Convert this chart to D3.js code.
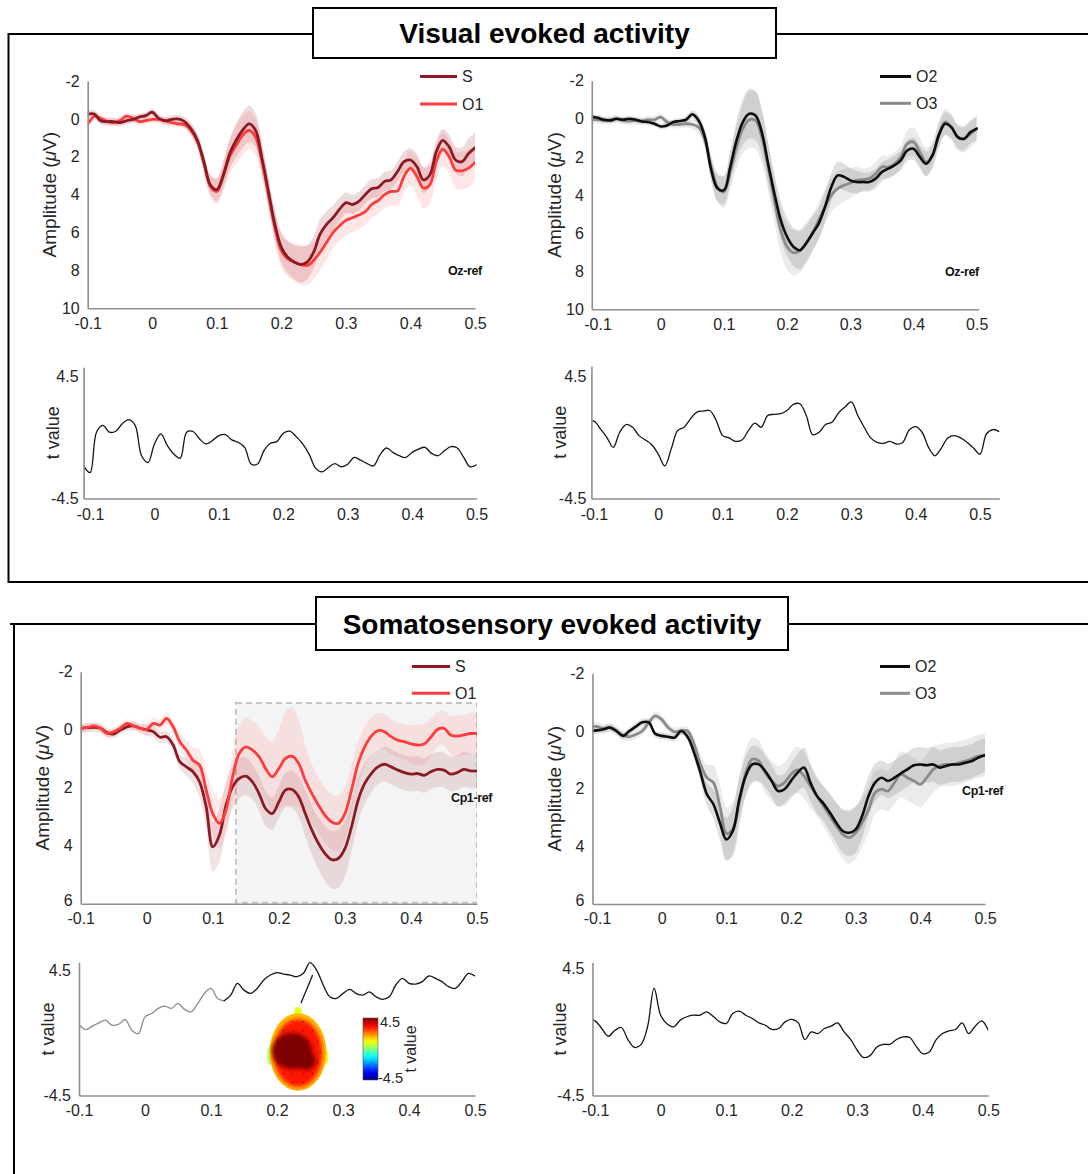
<!DOCTYPE html>
<html>
<head>
<meta charset="utf-8">
<script src="https://cdn.jsdelivr.net/npm/d3@7"></script>
<style>
  html, body { margin: 0; padding: 0; background: #fff; }
  svg text { font-family: "Liberation Sans", Arial, Helvetica, sans-serif; }
</style>
</head>
<body>
<script>
// ---------------- data ----------------
// ERP / t-value sampling grid: -0.11 s to 0.50 s, 10 ms steps
const erpTimes = d3.range(62).map(i => (i - 11) / 100);
const tTimes = d3.range(62).map(i => (i - 11) / 100);
const tTimesLong = d3.range(65).map(i => (i - 11) / 100);   // runs to 0.53 s

const timeTicks = [-0.1, 0, 0.1, 0.2, 0.3, 0.4, 0.5];
const visAmpTicks = [-2, 0, 2, 4, 6, 8, 10];
const somAmpTicks = [-2, 0, 2, 4, 6];
const tTicks = [-4.5, 4.5];

const visualTitle = "Visual evoked activity";
const somaTitle = "Somatosensory evoked activity";

// Visual, Oz-ref: S vs O1 (µV)
const visS = [-0.26, -0.26, -0.26, 0.10, 0.14, 0.14, 0.20, 0.10, 0.03, -0.10,
  -0.17, -0.35, -0.03, 0.10, 0.03, 0.00, 0.14, 0.52, 1.13, 2.26,
  3.48, 3.74, 2.96, 1.83, 1.13, 0.60, 0.26, 0.60, 2.08, 3.83,
  5.57, 6.78, 7.30, 7.56, 7.69, 7.56, 7.04, 6.09, 5.57, 5.22,
  4.78, 4.43, 4.52, 4.35, 4.00, 3.69, 3.62, 3.30, 3.22, 2.78,
  2.26, 2.17, 2.52, 3.22, 2.96, 1.74, 1.13, 1.48, 2.17, 2.26,
  1.83, 1.53];
const visO1 = [0.23, 0.23, -0.14, -0.03, 0.14, 0.20, 0.09, -0.14, -0.03, 0.14,
  0.09, 0.03, 0.03, 0.09, 0.20, 0.26, 0.31, 0.60, 1.20, 2.35,
  3.56, 3.83, 3.04, 2.00, 1.39, 0.87, 0.60, 0.96, 2.26, 4.00,
  5.74, 6.96, 7.39, 7.56, 7.69, 7.74, 7.48, 7.04, 6.52, 6.00,
  5.65, 5.36, 5.22, 5.08, 4.90, 4.52, 4.31, 4.00, 3.83, 3.80,
  3.04, 2.60, 3.04, 3.65, 3.48, 2.26, 1.60, 2.00, 2.70, 2.74,
  2.60, 2.30];
const visCiS = [0.2, 0.2, 0.2, 0.2, 0.2, 0.2, 0.2, 0.2, 0.2, 0.2,
  0.2, 0.2, 0.2, 0.2, 0.2, 0.2, 0.22, 0.3, 0.35, 0.4,
  0.5, 0.6, 0.7, 0.8, 0.9, 0.95, 0.95, 0.9, 0.8, 0.75,
  0.75, 0.8, 0.85, 0.9, 0.95, 0.9, 0.85, 0.8, 0.7, 0.65,
  0.6, 0.55, 0.5, 0.5, 0.5, 0.5, 0.5, 0.5, 0.5, 0.5,
  0.55, 0.6, 0.65, 0.7, 0.65, 0.6, 0.6, 0.65, 0.7, 0.75,
  0.8, 0.8];
const visCiO1 = [0.2, 0.2, 0.2, 0.2, 0.2, 0.2, 0.2, 0.2, 0.2, 0.2,
  0.2, 0.2, 0.2, 0.2, 0.2, 0.2, 0.22, 0.3, 0.4, 0.5,
  0.6, 0.7, 0.8, 0.9, 1.0, 1.05, 1.0, 0.95, 0.9, 0.85,
  0.85, 0.9, 0.95, 1.0, 1.05, 1.05, 1.0, 0.95, 0.9, 0.85,
  0.8, 0.8, 0.75, 0.75, 0.7, 0.7, 0.7, 0.7, 0.75, 0.8,
  0.85, 0.9, 1.0, 1.05, 1.0, 0.95, 0.9, 0.9, 0.95, 1.0,
  1.0, 1.0];

// Visual, Oz-ref: O2 vs O3 (µV)
const visO2 = [-0.12, -0.05, 0.05, 0.09, 0.00, 0.05, 0.00, 0.05, 0.14, 0.17,
  0.26, 0.40, 0.35, 0.17, 0.12, 0.05, -0.23, 0.09, 0.96, 2.70,
  3.66, 3.75, 2.53, 1.13, 0.17, -0.26, -0.17, 0.70, 2.36, 3.93,
  5.32, 6.20, 6.72, 6.90, 6.54, 6.02, 5.50, 4.62, 3.58, 2.97,
  3.05, 3.23, 3.32, 3.32, 3.32, 3.14, 2.79, 2.62, 2.44, 2.18,
  1.66, 1.57, 2.00, 2.36, 1.92, 0.87, 0.26, 0.44, 0.96, 1.05,
  0.70, 0.52];
const visO3 = [0.05, 0.05, 0.09, 0.05, 0.00, 0.09, 0.12, 0.09, 0.12, 0.05,
  0.05, -0.09, 0.17, 0.30, 0.30, 0.26, 0.30, 0.44, 1.13, 2.53,
  3.58, 3.84, 2.79, 1.48, 0.52, 0.05, 0.09, 0.96, 2.53, 4.27,
  5.85, 6.72, 7.03, 6.93, 6.54, 6.02, 5.32, 4.62, 4.01, 3.66,
  3.49, 3.37, 3.23, 3.19, 3.14, 2.88, 2.53, 2.53, 2.36, 2.00,
  1.31, 1.22, 1.74, 2.27, 1.92, 0.87, 0.17, 0.44, 0.96, 1.05,
  0.79, 0.52];
const visCiO2 = [0.15, 0.15, 0.15, 0.15, 0.15, 0.15, 0.15, 0.15, 0.15, 0.15,
  0.15, 0.15, 0.15, 0.15, 0.15, 0.15, 0.2, 0.3, 0.45, 0.6,
  0.7, 0.75, 0.85, 1.0, 1.2, 1.3, 1.3, 1.2, 1.1, 1.0,
  1.0, 1.0, 1.0, 1.0, 0.95, 0.9, 0.85, 0.8, 0.75, 0.7,
  0.7, 0.65, 0.6, 0.5, 0.5, 0.5, 0.5, 0.5, 0.5, 0.5,
  0.55, 0.6, 0.6, 0.65, 0.6, 0.6, 0.6, 0.6, 0.6, 0.6,
  0.6, 0.6];
const visCiO3 = [0.2, 0.2, 0.2, 0.2, 0.2, 0.2, 0.2, 0.2, 0.2, 0.2,
  0.2, 0.2, 0.2, 0.2, 0.2, 0.2, 0.25, 0.35, 0.5, 0.65,
  0.75, 0.85, 0.95, 1.1, 1.3, 1.5, 1.5, 1.4, 1.3, 1.2,
  1.2, 1.2, 1.2, 1.15, 1.1, 1.0, 0.95, 0.9, 0.9, 0.9,
  0.85, 0.8, 0.7, 0.6, 0.6, 0.6, 0.6, 0.6, 0.6, 0.6,
  0.7, 0.75, 0.75, 0.75, 0.7, 0.7, 0.7, 0.7, 0.7, 0.7,
  0.7, 0.7];

// Visual t values (paired contrasts)
const tVisS = [-2.09, -2.59, 0.40, 0.90, 0.40, 0.47, 1.02, 1.32, 0.90, -1.34,
  -1.84, -0.47, 0.27, -0.60, -1.22, -1.52, 0.40, 0.45, -0.10, -0.47,
  -0.22, 0.15, 0.22, -0.17, -0.35, -0.72, -1.95, -1.95, -0.97, -0.42,
  -0.30, 0.32, 0.47, 0.07, -0.47, -1.22, -2.26, -2.54, -2.21, -1.92,
  -2.16, -1.97, -1.47, -1.67, -1.92, -2.09, -1.27, -0.77, -1.09, -1.34,
  -1.47, -1.09, -0.85, -0.72, -1.17, -1.34, -0.97, -0.67, -0.77, -1.47,
  -2.16, -2.01];
const tVisO = [1.14, 1.22, 0.65, 0.02, -0.72, 0.40, 0.97, 0.77, 0.15, -0.17,
  -0.52, -1.22, -2.09, -0.85, 0.52, 0.77, 1.39, 1.89, 1.97, 2.01,
  1.27, 0.15, -0.02, -0.27, -0.17, 0.52, 1.07, 0.77, 1.64, 1.72,
  1.77, 2.01, 2.46, 2.51, 1.64, 0.22, 0.40, 0.97, 1.14, 1.82,
  2.26, 2.64, 1.64, 0.77, -0.02, -0.35, -0.42, -0.27, -0.47, -0.35,
  0.57, 0.82, 0.40, -0.72, -1.34, -0.77, -0.02, 0.15, -0.02, -0.35,
  -0.77, -1.22, 0.27, 0.60, 0.45];

// Somatosensory, Cp1-ref: S vs O1 (µV)
const somS = [-0.05, -0.05, -0.07, -0.08, -0.05, 0.10, 0.15, 0.01, -0.10, -0.13,
  -0.05, 0.01, 0.07, 0.26, 0.24, 0.53, 1.10, 1.28, 1.45, 1.80,
  2.66, 4.04, 3.64, 2.60, 1.97, 1.68, 1.60, 1.80, 2.20, 2.72,
  2.89, 2.49, 2.08, 2.06, 2.31, 2.89, 3.46, 3.92, 4.27, 4.48,
  4.44, 4.10, 3.35, 2.43, 1.85, 1.51, 1.28, 1.19, 1.28, 1.39,
  1.48, 1.53, 1.51, 1.57, 1.45, 1.37, 1.39, 1.53, 1.48, 1.37,
  1.42, 1.42];
const somO1 = [-0.05, -0.05, -0.08, -0.13, -0.05, 0.13, 0.07, -0.05, -0.22, -0.13,
  -0.05, -0.01, -0.22, -0.16, -0.39, -0.10, 0.41, 0.70, 1.05, 1.22,
  2.08, 2.89, 3.23, 2.77, 1.62, 0.82, 0.59, 0.70, 0.93, 1.34,
  1.62, 1.34, 0.99, 0.91, 1.16, 1.74, 2.20, 2.60, 2.95, 3.18,
  3.23, 2.89, 2.08, 1.16, 0.59, 0.22, 0.03, 0.07, 0.24, 0.36,
  0.41, 0.49, 0.53, 0.49, 0.26, -0.01, -0.05, 0.18, 0.22, 0.18,
  0.13, 0.13];
const somCiS = [0.15, 0.15, 0.15, 0.15, 0.15, 0.15, 0.15, 0.15, 0.15, 0.15,
  0.15, 0.2, 0.2, 0.2, 0.2, 0.2, 0.25, 0.3, 0.4, 0.55,
  0.7, 0.85, 0.9, 0.85, 0.75, 0.7, 0.65, 0.6, 0.6, 0.6,
  0.55, 0.55, 0.6, 0.65, 0.7, 0.8, 0.85, 0.9, 0.95, 1.0,
  1.0, 0.95, 0.85, 0.75, 0.7, 0.65, 0.6, 0.6, 0.6, 0.6,
  0.6, 0.6, 0.6, 0.6, 0.6, 0.6, 0.6, 0.6, 0.6, 0.6,
  0.6, 0.6];
const somCiO1 = [0.15, 0.15, 0.15, 0.15, 0.15, 0.15, 0.15, 0.15, 0.15, 0.15,
  0.15, 0.2, 0.2, 0.2, 0.2, 0.2, 0.3, 0.35, 0.45, 0.55,
  0.7, 0.8, 0.85, 0.85, 0.9, 1.0, 1.0, 1.0, 1.05, 1.1,
  1.2, 1.4, 1.6, 1.7, 1.5, 1.2, 1.0, 0.95, 0.95, 0.95,
  0.95, 0.9, 0.85, 0.75, 0.7, 0.65, 0.6, 0.6, 0.6, 0.6,
  0.6, 0.65, 0.7, 0.7, 0.65, 0.6, 0.6, 0.65, 0.7, 0.7,
  0.7, 0.7];

// Somatosensory, Cp1-ref: O2 vs O3 (µV)
const somO2 = [0.00, -0.02, -0.06, -0.12, 0.00, 0.17, 0.00, -0.15, -0.30, -0.30,
  0.10, 0.17, 0.20, 0.23, 0.00, 0.20, 0.75, 1.45, 2.20, 2.54,
  3.18, 3.76, 3.47, 2.37, 1.56, 1.16, 1.16, 1.39, 1.73, 2.08,
  2.02, 1.73, 1.45, 1.27, 1.79, 2.25, 2.51, 2.83, 3.18, 3.47,
  3.53, 3.41, 2.95, 2.25, 1.79, 1.62, 1.73, 1.62, 1.47, 1.33,
  1.19, 1.16, 1.19, 1.16, 1.27, 1.21, 1.16, 1.16, 1.10, 1.04,
  0.92, 0.84];
const somO3 = [-0.17, -0.15, -0.08, -0.12, 0.00, 0.15, 0.20, 0.12, 0.00, -0.29,
  -0.52, -0.40, -0.12, 0.03, 0.00, 0.00, 0.46, 1.16, 1.62, 1.79,
  2.60, 3.55, 3.40, 2.49, 1.45, 0.98, 1.04, 1.45, 1.73, 1.91,
  1.79, 1.50, 1.35, 1.56, 1.91, 2.25, 2.60, 2.95, 3.29, 3.58,
  3.70, 3.53, 3.18, 2.72, 2.14, 2.02, 2.08, 1.79, 1.50, 1.62,
  1.73, 1.85, 1.62, 1.33, 1.21, 1.16, 1.16, 1.10, 1.04, 0.96,
  0.87, 0.84];
const somCiO2 = [0.12, 0.12, 0.12, 0.12, 0.12, 0.12, 0.12, 0.12, 0.12, 0.12,
  0.12, 0.12, 0.12, 0.12, 0.12, 0.12, 0.2, 0.3, 0.4, 0.5,
  0.6, 0.75, 0.8, 0.75, 0.7, 0.65, 0.6, 0.55, 0.55, 0.55,
  0.55, 0.6, 0.65, 0.7, 0.65, 0.6, 0.6, 0.65, 0.7, 0.75,
  0.8, 0.8, 0.75, 0.7, 0.65, 0.6, 0.6, 0.6, 0.6, 0.6,
  0.6, 0.6, 0.6, 0.6, 0.6, 0.6, 0.6, 0.6, 0.6, 0.6,
  0.6, 0.6];
const somCiO3 = [0.15, 0.15, 0.15, 0.15, 0.15, 0.15, 0.15, 0.15, 0.15, 0.15,
  0.15, 0.15, 0.15, 0.15, 0.15, 0.15, 0.25, 0.35, 0.45, 0.6,
  0.75, 0.9, 0.95, 0.9, 0.8, 0.75, 0.7, 0.7, 0.7, 0.7,
  0.7, 0.75, 0.8, 0.8, 0.75, 0.7, 0.7, 0.75, 0.8, 0.85,
  0.9, 0.9, 0.85, 0.8, 0.75, 0.7, 0.7, 0.75, 0.8, 0.8,
  0.8, 0.8, 0.8, 0.8, 0.75, 0.75, 0.75, 0.75, 0.75, 0.75,
  0.75, 0.75];

// Somatosensory t values
const tSomS = [0.57, 0.57, 0.25, 0.50, 0.74, 0.93, 0.57, 0.64, 0.98, 0.21,
  -0.04, 1.17, 1.41, 1.78, 1.95, 1.78, 2.14, 1.71, 1.53, 2.14,
  2.86, 3.22, 2.50, 2.33, 2.74, 3.59, 3.10, 2.86, 3.22, 3.83,
  4.19, 4.36, 4.26, 4.19, 4.07, 4.31, 5.08, 4.55, 3.47, 2.62,
  2.50, 2.86, 3.15, 2.86, 2.74, 2.98, 2.62, 2.43, 2.62, 3.47,
  3.95, 3.59, 3.54, 3.71, 4.12, 3.95, 3.71, 3.35, 3.22, 3.71,
  4.31, 4.12];
const tSomO = [0.88, 0.78, 0.24, -0.31, 0.10, 0.31, -0.54, -1.10, -0.90, 0.36,
  3.10, 1.18, 0.55, 0.36, 0.83, 1.07, 1.18, 1.18, 1.42, 1.11,
  0.71, 0.59, 1.30, 1.47, 1.18, 0.95, 0.64, 0.47, 0.17, 0.24,
  0.71, 0.88, 0.64, -0.54, 0.00, -0.12, 0.24, 0.40, 0.64, 0.00,
  -0.54, -1.30, -1.82, -1.66, -1.07, -0.88, -0.88, -0.54, -0.36, -0.40,
  -1.02, -1.54, -1.42, -0.59, -0.12, 0.07, 0.17, 0.64, -0.12, 0.40,
  0.78, 0.12];

// significant S-vs-O1 window (somatosensory) and the time where the t trace turns black
const somaClusterTime = [0.135, 0.5];
const somaClusterAmp = [-0.92, 6];
const somaSigOnset = 0.12;
const topoTime = 0.254;        // t-trace sample the scalp map belongs to
const topoValue = 4.2;
const colorbarRange = [-4.5, 4.5];

// scalp map: sensor layout (unit head coords) and the map's t levels
const topoSensors = [[-0.2, -0.85], [0.2, -0.85],
  [-0.55, -0.6], [-0.2, -0.6], [0.2, -0.6], [0.55, -0.6],
  [-0.75, -0.3], [-0.38, -0.3], [0, -0.3], [0.38, -0.3], [0.75, -0.3],
  [-0.85, 0], [-0.45, 0], [0, 0], [0.45, 0], [0.85, 0],
  [-0.75, 0.3], [-0.38, 0.3], [0, 0.3], [0.38, 0.3], [0.75, 0.3],
  [-0.55, 0.6], [-0.2, 0.6], [0.2, 0.6], [0.55, 0.6],
  [-0.2, 0.85], [0.2, 0.85]];
const topoLevels = { rim: 1.7, body: 3.2, peak: 4.5, nose: 0.9, ear: 0.4 };

// ---------------- drawing ----------------
const W = 1088, H = 1174;
const AXIS_GREY = "#8e8e8e";
const TEXT_COL = "#262626";
const C_S = "#8c1a24", C_O1 = "#ff3b3b", C_O2 = "#0d0d0d", C_O3 = "#8a8a8a";
const TICK_FS = 16, LABEL_FS = 19;

const svg = d3.select("body").append("svg")
  .attr("width", W).attr("height", H)
  .attr("viewBox", `0 0 ${W} ${H}`);
const defs = svg.append("defs");

const fmt = d => String(d);
const smooth = d3.curveCatmullRom.alpha(0.5);

let clipN = 0;
function makePanel(o) {
  const x = d3.scaleLinear().domain(o.xDomain).range([o.left, o.right]);
  const y = d3.scaleLinear().domain(o.yDomain).range(o.yRange);
  const id = "plotclip" + (clipN++);
  defs.append("clipPath").attr("id", id).append("rect")
    .attr("x", o.left).attr("y", o.top - 30)
    .attr("width", o.right - o.left).attr("height", o.bottom - o.top + 60);
  const layer = svg.append("g").attr("clip-path", `url(#${id})`);
  return { x, y, layer, o };
}

function drawAxes(p) {
  const { x, y, o } = p;
  const gx = svg.append("g").attr("transform", `translate(0,${o.bottom})`)
    .call(d3.axisBottom(x).tickValues(timeTicks).tickFormat(fmt)
      .tickSize(0).tickSizeOuter(0).tickPadding(o.xPad));
  const gy = svg.append("g").attr("transform", `translate(${o.left},0)`)
    .call(d3.axisLeft(y).tickValues(o.yTicks).tickFormat(fmt)
      .tickSize(0).tickSizeOuter(0).tickPadding(o.yPad || 8));
  [gx, gy].forEach(g => {
    g.select(".domain").attr("stroke", AXIS_GREY).attr("stroke-width", 1.6);
    g.selectAll(".tick text").attr("font-size", TICK_FS).attr("fill", TEXT_COL)
      .attr("font-family", '"Liberation Sans", Arial, sans-serif');
  });
  // the lowest amplitude label sits in the corner just above the time labels
  if (o.cornerLift) {
    gy.selectAll(".tick").filter(d => d === o.yTicks[o.yTicks.length - 1])
      .select("text").attr("dy", "0.12em");
  }
  const lab = svg.append("text")
    .attr("transform", `translate(${o.labelX},${(o.top + o.bottom) / 2}) rotate(-90)`)
    .attr("text-anchor", "middle").attr("font-size", o.ylabel === "amp" ? LABEL_FS : 18)
    .attr("fill", TEXT_COL);
  if (o.ylabel === "amp") {
    lab.append("tspan").text("Amplitude (");
    lab.append("tspan").attr("font-style", "italic").text("\u03BC");
    lab.append("tspan").text("V)");
  } else {
    lab.text(o.ylabel);
  }
}

function band(p, times, mean, ci, color, opacity) {
  const area = d3.area()
    .x((d, i) => p.x(times[i]))
    .y0((d, i) => p.y(mean[i] - ci[i]))
    .y1((d, i) => p.y(mean[i] + ci[i]))
    .curve(smooth);
  p.layer.append("path").attr("d", area(mean))
    .attr("fill", color).attr("fill-opacity", opacity).attr("stroke", "none");
}

function trace(p, times, vals, color, width) {
  const line = d3.line().x((d, i) => p.x(times[i])).y(d => p.y(d)).curve(smooth);
  p.layer.append("path").attr("d", line(vals))
    .attr("fill", "none").attr("stroke", color).attr("stroke-width", width)
    .attr("stroke-linejoin", "round").attr("stroke-linecap", "round");
}

function legend(entries, x1, x2, y0, gap) {
  entries.forEach((e, i) => {
    const yy = y0 + i * gap;
    svg.append("line").attr("x1", x1).attr("x2", x2).attr("y1", yy).attr("y2", yy)
      .attr("stroke", e.color).attr("stroke-width", 3);
    svg.append("text").attr("x", x2 + 5).attr("y", yy).attr("dy", "0.36em")
      .attr("font-size", 16).attr("fill", TEXT_COL).text(e.name);
  });
}

function refTag(text, x, y) {
  svg.append("text").attr("x", x).attr("y", y).attr("dy", "0.36em")
    .attr("font-size", 12.5).attr("font-weight", "bold").attr("letter-spacing", -0.4)
    .attr("fill", "#111").text(text);
}

// ---- section frames and titles ----
const frame = svg.append("g").attr("fill", "none").attr("stroke", "#000").attr("stroke-width", 2);
frame.append("path").attr("d", "M313,34 H8.5 V582 H1088");
frame.append("path").attr("d", "M776,34 H1088");
frame.append("path").attr("d", "M316,624 H10 M14,623 V1174");
frame.append("path").attr("d", "M788,624 H1088");
svg.append("rect").attr("x", 313).attr("y", 8).attr("width", 463).attr("height", 50)
  .attr("fill", "#fff").attr("stroke", "#000").attr("stroke-width", 2);
svg.append("rect").attr("x", 316).attr("y", 597).attr("width", 472).attr("height", 53)
  .attr("fill", "#fff").attr("stroke", "#000").attr("stroke-width", 2);
svg.append("text").attr("x", 544.5).attr("y", 33).attr("dy", "0.36em")
  .attr("text-anchor", "middle").attr("font-size", 28).attr("font-weight", "bold")
  .attr("fill", "#000").text(visualTitle);
svg.append("text").attr("x", 552).attr("y", 623.5).attr("dy", "0.36em")
  .attr("text-anchor", "middle").attr("font-size", 28).attr("font-weight", "bold")
  .attr("fill", "#000").text(somaTitle);

// ---- visual: S vs O1 ----
const pA = makePanel({ left: 87.7, right: 475, top: 81, bottom: 308.3,
  xDomain: [-0.1, 0.5], yDomain: [-2, 10], yRange: [81, 308.3], xPad: 9.5,
  yTicks: visAmpTicks, ylabel: "amp", labelX: 56 });
band(pA, erpTimes, visS, visCiS, C_S, 0.16);
band(pA, erpTimes, visO1, visCiO1, C_O1, 0.13);
trace(pA, erpTimes, visO1, C_O1, 2.8);
trace(pA, erpTimes, visS, C_S, 2.8);
drawAxes(pA);
legend([{ name: "S", color: C_S }, { name: "O1", color: C_O1 }], 420, 457, 76.5, 27.5);
refTag("Oz-ref", 448, 270.5);

// ---- visual: O2 vs O3 ----
const pB = makePanel({ left: 591.8, right: 978.6, top: 80.7, bottom: 309.3,
  xDomain: [-0.109, 0.503], yDomain: [-2, 10], yRange: [80.7, 309.3], xPad: 9.5,
  yTicks: visAmpTicks, ylabel: "amp", labelX: 561 });
band(pB, erpTimes, visO2, visCiO2, "#000", 0.12);
band(pB, erpTimes, visO3, visCiO3, "#7a7a7a", 0.15);
trace(pB, erpTimes, visO3, C_O3, 2.8);
trace(pB, erpTimes, visO2, C_O2, 2.6);
drawAxes(pB);
legend([{ name: "O2", color: C_O2 }, { name: "O3", color: C_O3 }], 880, 911, 76.5, 26.8);
refTag("Oz-ref", 945, 271);

// ---- visual t values ----
const pC = makePanel({ left: 83.6, right: 476.6, top: 367.2, bottom: 498.5,
  xDomain: [-0.11, 0.5], yDomain: [-4.5, 5.2], yRange: [498.5, 367.2], xPad: 10.5, yPad: 5,
  yTicks: tTicks, ylabel: "t value", labelX: 59 });
trace(pC, tTimes, tVisS, "#141414", 1.3);
drawAxes(pC);

const pD = makePanel({ left: 591.4, right: 999.3, top: 366, bottom: 498.5,
  xDomain: [-0.104, 0.53], yDomain: [-4.5, 5.3], yRange: [498.5, 366], xPad: 10.5, yPad: 5,
  yTicks: tTicks, ylabel: "t value", labelX: 566 });
trace(pD, tTimesLong, tVisO, "#141414", 1.3);
drawAxes(pD);

// ---- somatosensory: S vs O1 ----
const pE = makePanel({ left: 80.7, right: 477, top: 671.7, bottom: 903.8,
  xDomain: [-0.1, 0.5], yDomain: [-2, 6], yRange: [671.7, 903.8], xPad: 8.5,
  yTicks: somAmpTicks, ylabel: "amp", labelX: 49, cornerLift: true });
pE.layer.append("rect")
  .attr("x", pE.x(somaClusterTime[0])).attr("y", pE.y(somaClusterAmp[0]))
  .attr("width", pE.x(somaClusterTime[1]) - pE.x(somaClusterTime[0]))
  .attr("height", pE.y(somaClusterAmp[1]) - pE.y(somaClusterAmp[0]) - 1)
  .attr("fill", "#f4f4f4").attr("stroke", "#c4c4c4").attr("stroke-width", 2)
  .attr("stroke-dasharray", "6,4");
band(pE, erpTimes, somS, somCiS, C_S, 0.12);
band(pE, erpTimes, somO1, somCiO1, C_O1, 0.11);
trace(pE, erpTimes, somS, C_S, 2.8);
trace(pE, erpTimes, somO1, C_O1, 2.8);
drawAxes(pE);
legend([{ name: "S", color: C_S }, { name: "O1", color: C_O1 }], 412, 450, 666.5, 26.8);
refTag("Cp1-ref", 451, 797);

// ---- somatosensory: O2 vs O3 ----
const pF = makePanel({ left: 592.5, right: 985, top: 673.3, bottom: 904,
  xDomain: [-0.107, 0.5], yDomain: [-2, 6], yRange: [673.3, 904], xPad: 8.5,
  yTicks: somAmpTicks, ylabel: "amp", labelX: 561, cornerLift: true });
band(pF, erpTimes, somO2, somCiO2, "#000", 0.12);
band(pF, erpTimes, somO3, somCiO3, "#7a7a7a", 0.15);
trace(pF, erpTimes, somO3, C_O3, 2.8);
trace(pF, erpTimes, somO2, C_O2, 2.6);
drawAxes(pF);
legend([{ name: "O2", color: C_O2 }, { name: "O3", color: C_O3 }], 880, 910, 666.5, 26.8);
refTag("Cp1-ref", 962, 790);

// ---- somatosensory t values ----
const pG = makePanel({ left: 79, right: 475, top: 962.4, bottom: 1095.5,
  xDomain: [-0.1, 0.5], yDomain: [-4.5, 5.1], yRange: [1095.5, 962.4], xPad: 9,
  yTicks: tTicks, ylabel: "t value", labelX: 54 });
{
  const iOn = tTimes.findIndex(t => t >= somaSigOnset - 1e-9);
  trace(pG, tTimes.slice(0, iOn + 1), tSomS.slice(0, iOn + 1), "#8c8c8c", 1.3);
  trace(pG, tTimes.slice(iOn), tSomS.slice(iOn), "#141414", 1.3);
}
drawAxes(pG);

const pH = makePanel({ left: 592.5, right: 988.3, top: 962.6, bottom: 1095.5,
  xDomain: [-0.104, 0.5], yDomain: [-4.5, 4.9], yRange: [1095.5, 962.6], xPad: 9.5,
  yTicks: tTicks, ylabel: "t value", labelX: 566 });
trace(pH, tTimes, tSomO, "#141414", 1.3);
drawAxes(pH);

// ---- scalp map inset with colour bar ----
const jet = d3.scaleLinear()
  .domain([-4.5, -3.375, -1.125, 0, 1.125, 3.375, 4.5])
  .range(["#00007f", "#0000ff", "#00ffff", "#80ff80", "#ffff00", "#ff0000", "#7f0000"])
  .clamp(true);

const topo = { cx: 298, cy: 1052, rx: 28.5, ry: 39 };
defs.append("filter").attr("id", "soft").attr("x", "-50%").attr("y", "-50%")
  .attr("width", "200%").attr("height", "200%")
  .append("feGaussianBlur").attr("stdDeviation", 2.2);
defs.append("clipPath").attr("id", "headclip").append("ellipse")
  .attr("cx", topo.cx).attr("cy", topo.cy).attr("rx", topo.rx).attr("ry", topo.ry);

const tg = svg.append("g");
// nose and ears
tg.append("path")
  .attr("d", `M${topo.cx - 5},${topo.cy - topo.ry + 3} L${topo.cx - 3},${topo.cy - topo.ry - 5} Q${topo.cx},${topo.cy - topo.ry - 7} ${topo.cx + 3},${topo.cy - topo.ry - 5} L${topo.cx + 5},${topo.cy - topo.ry + 3} Z`)
  .attr("fill", jet(topoLevels.nose));
tg.append("ellipse").attr("cx", topo.cx - topo.rx + 1).attr("cy", topo.cy + 3)
  .attr("rx", 3.2).attr("ry", 10).attr("fill", jet(topoLevels.ear));
tg.append("ellipse").attr("cx", topo.cx + topo.rx - 1).attr("cy", topo.cy + 5)
  .attr("rx", 2.8).attr("ry", 8).attr("fill", jet(topoLevels.nose));
const head = tg.append("g").attr("clip-path", "url(#headclip)");
head.append("ellipse").attr("cx", topo.cx).attr("cy", topo.cy)
  .attr("rx", topo.rx).attr("ry", topo.ry).attr("fill", jet(topoLevels.rim));
head.append("ellipse").attr("cx", topo.cx).attr("cy", topo.cy + 1)
  .attr("rx", topo.rx - 4).attr("ry", topo.ry - 5)
  .attr("fill", jet(topoLevels.body)).attr("filter", "url(#soft)");
head.append("ellipse").attr("cx", topo.cx - 6).attr("cy", topo.cy - 1)
  .attr("rx", 20).attr("ry", 18).attr("fill", jet(topoLevels.peak)).attr("filter", "url(#soft)");
head.append("ellipse").attr("cx", topo.cx + 8).attr("cy", topo.cy + 9)
  .attr("rx", 10).attr("ry", 9).attr("fill", jet(topoLevels.peak)).attr("filter", "url(#soft)");
head.selectAll("circle.sensor").data(topoSensors).join("circle")
  .attr("class", "sensor")
  .attr("cx", d => topo.cx + d[0] * topo.rx * 0.92)
  .attr("cy", d => topo.cy + d[1] * topo.ry * 0.92)
  .attr("r", 0.7).attr("fill", "#000").attr("fill-opacity", 0.55);

// pointer from the t trace to the map
svg.append("line")
  .attr("x1", pG.x(topoTime)).attr("y1", pG.y(topoValue))
  .attr("x2", topo.cx + 3).attr("y2", topo.cy - topo.ry - 10)
  .attr("stroke", "#1a1a1a").attr("stroke-width", 1.3);

// colour bar
const cb = { x: 363, y: 1018, w: 15, h: 62 };
const grad = defs.append("linearGradient").attr("id", "jetbar")
  .attr("x1", 0).attr("y1", 1).attr("x2", 0).attr("y2", 0);
d3.range(0, 1.0001, 0.05).forEach(f => {
  grad.append("stop").attr("offset", f)
    .attr("stop-color", jet(colorbarRange[0] + f * (colorbarRange[1] - colorbarRange[0])));
});
svg.append("rect").attr("x", cb.x).attr("y", cb.y).attr("width", cb.w).attr("height", cb.h)
  .attr("fill", "url(#jetbar)").attr("stroke", "#555").attr("stroke-width", 0.6);
const cbScale = d3.scaleLinear().domain(colorbarRange).range([cb.y + cb.h, cb.y]);
svg.append("text").attr("x", cb.x + cb.w + 2).attr("y", cbScale(4.5) + 4).attr("dy", "0.36em")
  .attr("font-size", 14.5).attr("fill", TEXT_COL).text(fmt(colorbarRange[1]));
svg.append("text").attr("x", cb.x + cb.w).attr("y", cbScale(-4.5) - 2).attr("dy", "0.36em")
  .attr("font-size", 14.5).attr("fill", TEXT_COL).text(fmt(colorbarRange[0]));
svg.append("text").attr("transform", `translate(410,${cb.y + cb.h / 2}) rotate(-90)`)
  .attr("text-anchor", "middle").attr("dy", "0.36em")
  .attr("font-size", 16).attr("fill", TEXT_COL).text("t value");
</script>
</body>
</html>
